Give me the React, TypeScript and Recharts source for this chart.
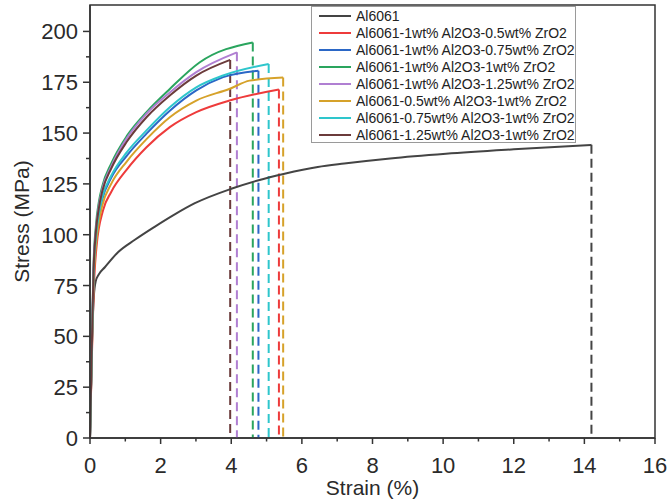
import { LineChart, Line, XAxis, YAxis, Legend, ReferenceArea, Label } from 'recharts';

const FONT = '"Liberation Sans", Arial, sans-serif';
const AXIS = '#333333';

const seriesNames = [
  'Al6061',
  'Al6061-1wt% Al2O3-0.5wt% ZrO2',
  'Al6061-1wt% Al2O3-0.75wt% ZrO2',
  'Al6061-1wt% Al2O3-1wt% ZrO2',
  'Al6061-1wt% Al2O3-1.25wt% ZrO2',
  'Al6061-0.5wt% Al2O3-1wt% ZrO2',
  'Al6061-0.75wt% Al2O3-1wt% ZrO2',
  'Al6061-1.25wt% Al2O3-1wt% ZrO2',
];
const seriesColors = ['#444444', '#ee3b3b', '#2b67c6', '#2aa55e', '#b07fd2', '#d6a22a', '#2ec6cc', '#6b3b3b'];

// strain (%) / stress (MPa)
const al6061Strain = [0, 0.06, 0.11, 0.16, 0.25, 0.42, 0.8, 1.27, 1.84, 2.4, 2.97, 4.0, 4.75, 5.51, 6.45, 7.2, 8.5, 10.08, 12, 14.2];
const al6061Stress = [0, 50, 70, 77, 80.5, 84, 91.5, 97.5, 104, 110, 115.5, 122.6, 126.7, 130, 133.3, 135, 137.5, 139.8, 142, 144.2];

const zr05Strain = [0, 0.05, 0.1, 0.19, 0.37, 0.6, 1.04, 1.6, 2.26, 3.01, 3.95, 5.35];
const zr05Stress = [0, 38, 70, 95, 112, 121, 132, 143, 152.9, 160.3, 166, 171.4];

const zr075Strain = [0, 0.05, 0.1, 0.17, 0.25, 0.35, 0.6, 1.04, 1.6, 2.26, 3.01, 3.77, 4.77];
const zr075Stress = [0, 41, 79, 98, 109, 117.5, 128, 138.8, 149.7, 161, 171, 177.5, 180.7];

const zr1Strain = [0, 0.05, 0.1, 0.17, 0.25, 0.35, 0.6, 1.04, 1.6, 2.26, 3.1, 4.61];
const zr1Stress = [0, 45, 85, 105, 116, 124, 135, 148.5, 160.3, 171.7, 184.7, 194.6];

const zr125Strain = [0, 0.05, 0.1, 0.17, 0.25, 0.35, 0.6, 1.04, 1.6, 2.26, 3.01, 4.16];
const zr125Stress = [0, 44, 83, 103, 114, 122.5, 133.5, 147.4, 159.5, 170, 180, 189.7];

const al05Strain = [0, 0.05, 0.1, 0.17, 0.25, 0.35, 0.6, 1.04, 1.6, 2.26, 3.01, 3.96, 4.52, 5.47];
const al05Stress = [0, 40, 76, 95, 106, 114.5, 125, 136, 147, 157.8, 166, 171.8, 175.8, 177.3];

const al075Strain = [0, 0.05, 0.1, 0.17, 0.25, 0.35, 0.6, 1.04, 1.6, 2.26, 3.01, 3.77, 5.06];
const al075Stress = [0, 42, 80, 99, 110, 118.5, 129, 140.5, 151.3, 162.7, 172.5, 178.3, 184];

const al125Strain = [0, 0.05, 0.1, 0.17, 0.25, 0.35, 0.6, 1.04, 1.6, 2.26, 3.01, 3.97];
const al125Stress = [0, 44, 82, 102, 113, 121.5, 132.5, 145.7, 157.8, 168.5, 178.3, 186];

const xTicks = [0, 1, 2, 3, 4, 5, 6, 7, 8, 9, 10, 11, 12, 13, 14, 15, 16];
const yTicks = [0, 12.5, 25, 37.5, 50, 62.5, 75, 87.5, 100, 112.5, 125, 137.5, 150, 162.5, 175, 187.5, 200];

const curves = [
  [al6061Strain, al6061Stress],
  [zr05Strain, zr05Stress],
  [zr075Strain, zr075Stress],
  [zr1Strain, zr1Stress],
  [zr125Strain, zr125Stress],
  [al05Strain, al05Stress],
  [al075Strain, al075Stress],
  [al125Strain, al125Stress],
].map(([xs, ys]) => xs.map((x, i) => ({ x, y: ys[i] })));

// fracture drop: last point straight down to zero
const drops = curves.map(pts => {
  const last = pts[pts.length - 1];
  return [{ x: last.x, y: last.y }, { x: last.x, y: 0 }];
});

const XTick = (props: any) => {
  const { x, y, payload } = props;
  const major = payload.value % 2 === 0;
  return (
    <g>
      <line x1={x} y1={y} x2={x} y2={y + (major ? 6 : 3.5)} stroke={AXIS} strokeWidth={1.5} />
      {major && (
        <text x={x} y={y + 35} textAnchor="middle" fontSize={22} fontFamily={FONT} fill="#2a2a2a">
          {payload.value}
        </text>
      )}
    </g>
  );
};

const YTick = (props: any) => {
  const { x, y, payload } = props;
  const major = payload.value % 25 === 0;
  return (
    <g>
      <line x1={x} y1={y} x2={x - (major ? 7 : 4)} y2={y} stroke={AXIS} strokeWidth={1.5} />
      {major && (
        <text x={x - 12} y={y + 8} textAnchor="end" fontSize={22} fontFamily={FONT} fill="#2a2a2a">
          {payload.value}
        </text>
      )}
    </g>
  );
};

const LegendBox = () => (
  <div
    style={{
      width: 265,
      height: 137,
      border: '1px solid #9a9a9a',
      background: '#fff',
      boxSizing: 'border-box',
      position: 'relative',
      fontFamily: FONT,
      fontSize: 14,
      color: '#222',
    }}
  >
    {seriesNames.map((name, i) => (
      <div
        key={name}
        style={{ position: 'absolute', left: 7, top: i * 17, height: 17, display: 'flex', alignItems: 'center', whiteSpace: 'nowrap' }}
      >
        <span style={{ display: 'inline-block', width: 32, height: 2, background: seriesColors[i], marginRight: 5 }} />
        <span>{name}</span>
      </div>
    ))}
  </div>
);

export default function App() {
  return (
    <div style={{ position: 'absolute', left: 0, top: 0, background: '#fff' }}>
      <LineChart width={668} height={503} margin={{ top: 5, right: 13, bottom: 0, left: 0 }}>
        <XAxis
          type="number"
          dataKey="x"
          domain={[0, 16]}
          ticks={xTicks}
          interval={0}
          tick={<XTick />}
          tickLine={false}
          tickSize={0}
          tickMargin={0}
          height={65}
          stroke={AXIS}
          strokeWidth={1.5}
        >
          <Label value="Strain (%)" position="insideBottom" offset={8} fontSize={21} fontFamily={FONT} fill="#2a2a2a" />
        </XAxis>
        <YAxis
          type="number"
          dataKey="y"
          domain={[0, 213]}
          ticks={yTicks}
          interval={0}
          tick={<YTick />}
          tickLine={false}
          tickSize={0}
          tickMargin={0}
          width={90}
          stroke={AXIS}
          strokeWidth={1.5}
        >
          <Label value="Stress (MPa)" angle={-90} position="center" dx={-23} fontSize={21} fontFamily={FONT} fill="#2a2a2a" />
        </YAxis>
        <ReferenceArea x1={0} x2={16} y1={0} y2={213} fill="none" stroke={AXIS} strokeWidth={1.5} />
        {drops.map((d, i) => (
          <Line
            key={'drop' + i}
            data={d}
            dataKey="y"
            type="linear"
            stroke={seriesColors[i]}
            strokeWidth={2}
            strokeDasharray="9 5"
            dot={false}
            legendType="none"
            isAnimationActive={false}
          />
        ))}
        {curves.map((c, i) => (
          <Line
            key={seriesNames[i]}
            data={c}
            dataKey="y"
            name={seriesNames[i]}
            type="monotone"
            stroke={seriesColors[i]}
            strokeWidth={2}
            dot={false}
            isAnimationActive={false}
          />
        ))}
        <Legend
          layout="vertical"
          align="center"
          verticalAlign="middle"
          content={<LegendBox />}
          wrapperStyle={{ top: 6, left: 311, width: 265, height: 137 }}
        />
      </LineChart>
    </div>
  );
}
